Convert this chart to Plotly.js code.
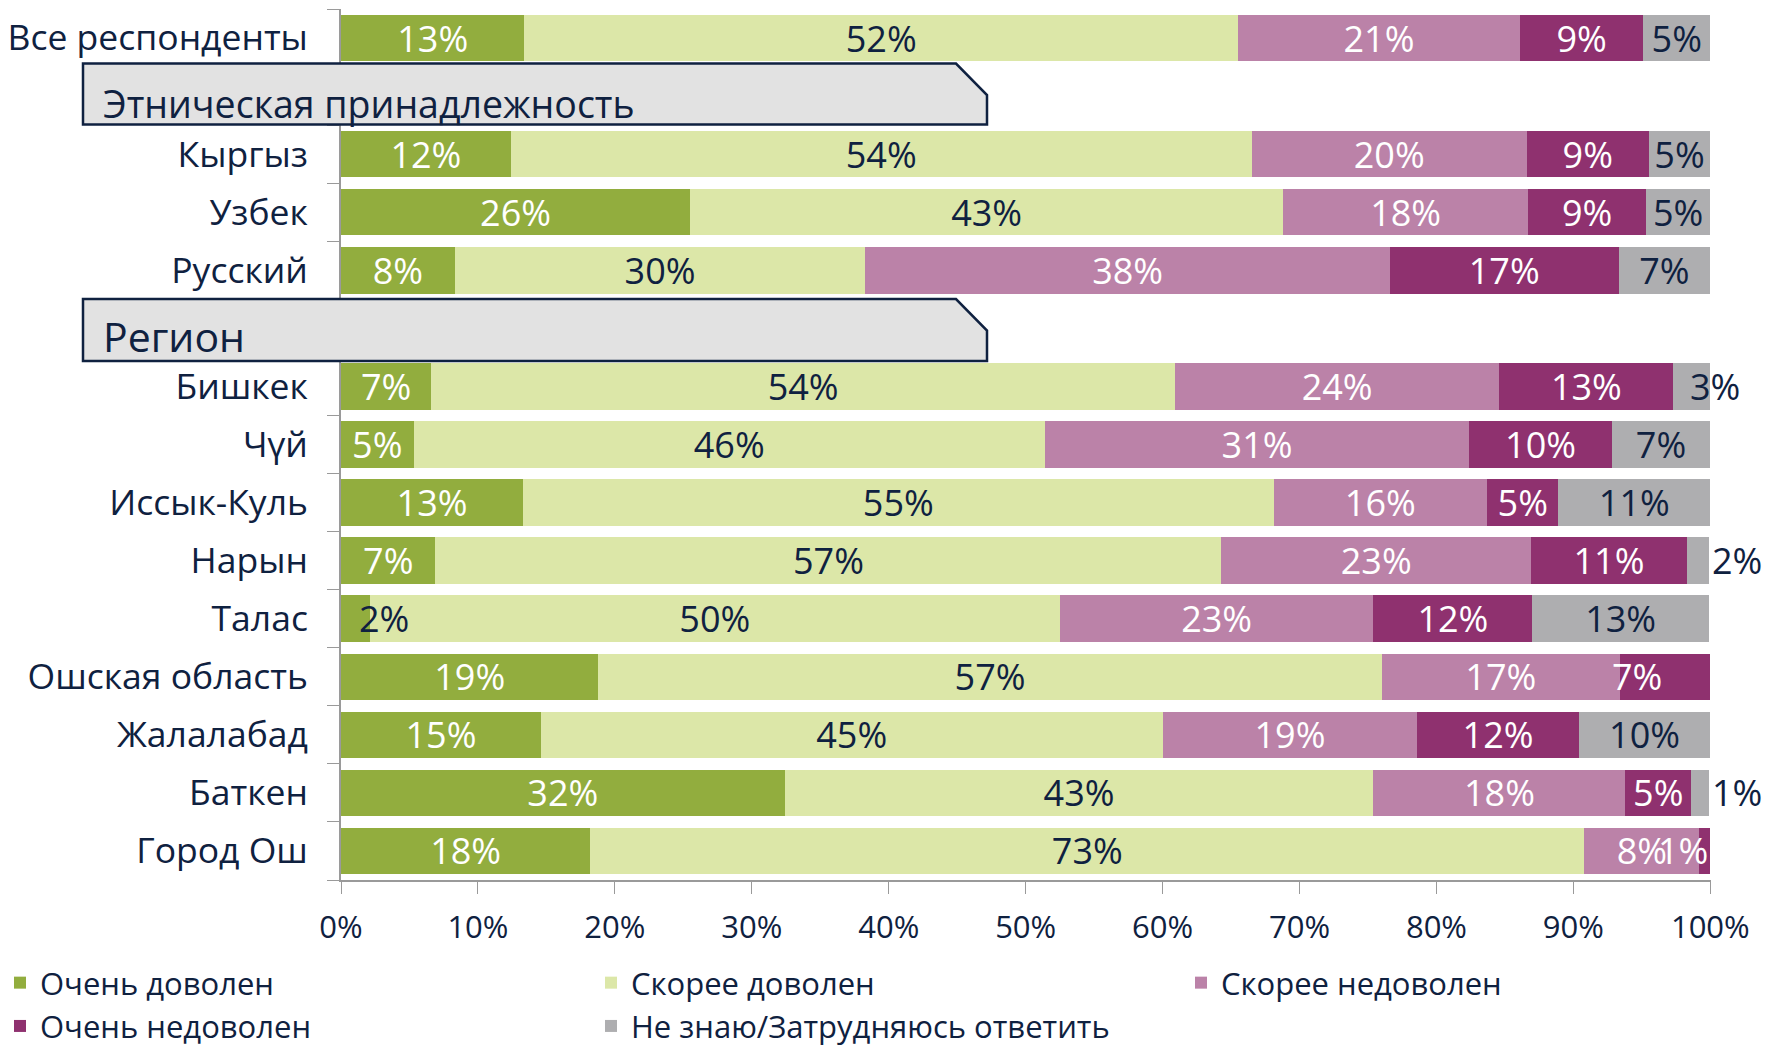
<!DOCTYPE html>
<html>
<head>
<meta charset="utf-8">
<script src="https://cdn.plot.ly/plotly-3.0.1.min.js"></script>
<style>html,body{margin:0;padding:0;background:#fff;}#chart{width:1773px;height:1048px;}</style>
</head>
<body>
<div id="chart"></div>
<script>
const categories = ['Все респонденты','Этническая принадлежность','Кыргыз','Узбек','Русский','Регион','Бишкек','Чүй','Иссык-Куль','Нарын','Талас','Ошская область','Жалалабад','Баткен','Город Ош'];
const headerRows = ['Этническая принадлежность','Регион'];
const seriesNames = ['Очень доволен','Скорее доволен','Скорее недоволен','Очень недоволен','Не знаю/Затрудняюсь ответить'];
const veryPleased      = [13.4,null,12.4,25.5, 8.3,null, 6.6, 5.3,13.3, 6.9, 2.1,18.8,14.6,32.4,18.2];
const ratherPleased    = [52.1,null,54.1,43.3,30.0,null,54.3,46.1,54.8,57.4,50.4,57.2,45.4,43.0,72.6];
const ratherDispleased = [20.6,null,20.1,17.9,38.3,null,23.7,31.0,15.6,22.6,22.9,17.4,18.6,18.4, 8.4];
const veryDispleased   = [ 9.0,null, 8.9, 8.6,16.7,null,12.7,10.4, 5.2,11.4,11.6, 6.6,11.8, 4.8, 0.8];
const dontKnow         = [ 4.9,null, 4.5, 4.7, 6.7,null, 2.7, 7.2,11.1, 1.6,12.9,null, 9.6, 1.3,null];
const xTicks = [0,10,20,30,40,50,60,70,80,90,100];

const colors = ['#92ad3e','#dce7a8','#bb82a8','#8f316f','#aeaeb0'];
const NAVY = '#0f2140';
const FONT = 'Open Sans, Liberation Sans, sans-serif';

const seriesVals = [veryPleased, ratherPleased, ratherDispleased, veryDispleased, dontKnow];
const pct = v => Math.round(v) + '%';

// labels that the reference places off-centre, drawn as annotations instead
const special = [
  {series:0, cat:'Талас', anchor:'left', shift:16, color:NAVY},
  {series:4, cat:'Бишкек', anchor:'left', shift:15, color:NAVY},
  {series:3, cat:'Ошская область', anchor:'left', shift:-10, color:'#ffffff'},
  {series:3, cat:'Город Ош', anchor:'right', shift:0, color:'#ffffff'}
];
const isSpecial = (i,c) => special.some(s => s.series===i && s.cat===c);

const textColors = ['#ffffff', NAVY, '#ffffff', '#ffffff', NAVY];
const legendOf = ['legend','legend2','legend3','legend','legend2'];

const traces = seriesVals.map((vals, i) => ({
  type:'bar', orientation:'h', name: seriesNames[i], legend: legendOf[i],
  y: categories, x: vals,
  marker:{color: colors[i], line:{width:0}},
  text: vals.map((v,k) => (v==null || isSpecial(i, categories[k])) ? '' : pct(v)),
  textposition: i===4 ? vals.map(v => (v!=null && v<2) ? 'outside' : 'inside') : 'inside',
  insidetextanchor:'middle',
  textangle:0,
  constraintext:'none',
  cliponaxis:false,
  textfont:{family:FONT, size:36, color: textColors[i]},
  outsidetextfont:{family:FONT, size:36, color: NAVY},
  hoverinfo:'skip'
}));

// plot area in pixels
const L=341, R=1711, T=9, B=880;
const px = x => (x-L)/(R-L);
const py = y => (B-y)/(B-T);

function headerPath(top, bottom, cutY){
  const x0=px(83), x1=px(987), xc=px(956);
  return `M ${x0},${py(bottom)} L ${x0},${py(top)} L ${xc},${py(top)} L ${x1},${py(cutY)} L ${x1},${py(bottom)} Z`;
}

const specialAnn = special.map(s => {
  const k = categories.indexOf(s.cat);
  let start = 0;
  for (let j=0; j<s.series; j++) start += (seriesVals[j][k] || 0);
  const end = start + seriesVals[s.series][k];
  return {
    xref:'x', yref:'y', x: s.anchor==='left' ? start : end, y: s.cat,
    xanchor:s.anchor, yanchor:'middle', xshift:s.shift, showarrow:false,
    text: pct(seriesVals[s.series][k]),
    font:{family:FONT, size:36, color:s.color}
  };
});

function legendAt(xPix){
  return {
    orientation:'v', xref:'container', yref:'container',
    x:xPix/1773, xanchor:'left', y:1-956/1048, yanchor:'top',
    font:{family:FONT, size:31, color:NAVY},
    traceorder:'normal', bgcolor:'rgba(0,0,0,0)', itemclick:false, itemdoubleclick:false,
    tracegroupgap:0
  };
}

const layout = {
  width:1773, height:1048,
  margin:{l:L, r:1773-R, t:T, b:1048-B, pad:0, autoexpand:false},
  paper_bgcolor:'#ffffff', plot_bgcolor:'#ffffff',
  font:{family:FONT, color:NAVY, size:34},
  barmode:'stack', bargap:0.2,
  showlegend:true,
  xaxis:{
    range:[0,100.05], tickmode:'array', tickvals:xTicks, ticktext:xTicks.map(v=>v+'%'),
    showline:true, linecolor:'#9a9a9a', linewidth:2,
    ticks:'outside', ticklen:12, tickcolor:'#9a9a9a', tickwidth:1,
    showgrid:false, zeroline:false, ticklabelstandoff:7, automargin:false,
    tickfont:{family:FONT, size:31, color:NAVY}, fixedrange:true
  },
  yaxis:{
    type:'category', categoryorder:'array', categoryarray:categories,
    autorange:'reversed',
    tickmode:'array', tickvals:categories,
    ticktext:categories.map(c => headerRows.includes(c) ? '' : c),
    ticks:'outside', tickson:'boundaries', ticklen:12, tickcolor:'#9a9a9a',
    showline:true, linecolor:'#9a9a9a', linewidth:2,
    showgrid:false, zeroline:false, ticklabelstandoff:24, automargin:false,
    tickfont:{family:FONT, size:35.5, color:NAVY}, fixedrange:true
  },
  legend: legendAt(0),
  legend2: legendAt(591),
  legend3: legendAt(1181),
  shapes:[
    {type:'path', xref:'paper', yref:'paper', path:headerPath(63.5,124.5,95), fillcolor:'#e2e2e2', line:{color:NAVY, width:2.5}, layer:'above'},
    {type:'path', xref:'paper', yref:'paper', path:headerPath(299,361,330.5), fillcolor:'#e2e2e2', line:{color:NAVY, width:2.5}, layer:'above'}
  ],
  annotations:[
    {xref:'paper', yref:'paper', x:px(101), y:py(103), xanchor:'left', yanchor:'middle', text:headerRows[0], showarrow:false, font:{family:FONT, size:37.5, color:NAVY}},
    {xref:'paper', yref:'paper', x:px(101), y:py(336), xanchor:'left', yanchor:'middle', text:headerRows[1], showarrow:false, font:{family:FONT, size:41, color:NAVY}}
  ].concat(specialAnn)
};

Plotly.newPlot('chart', traces, layout, {displayModeBar:false, staticPlot:true});
</script>
</body>
</html>
